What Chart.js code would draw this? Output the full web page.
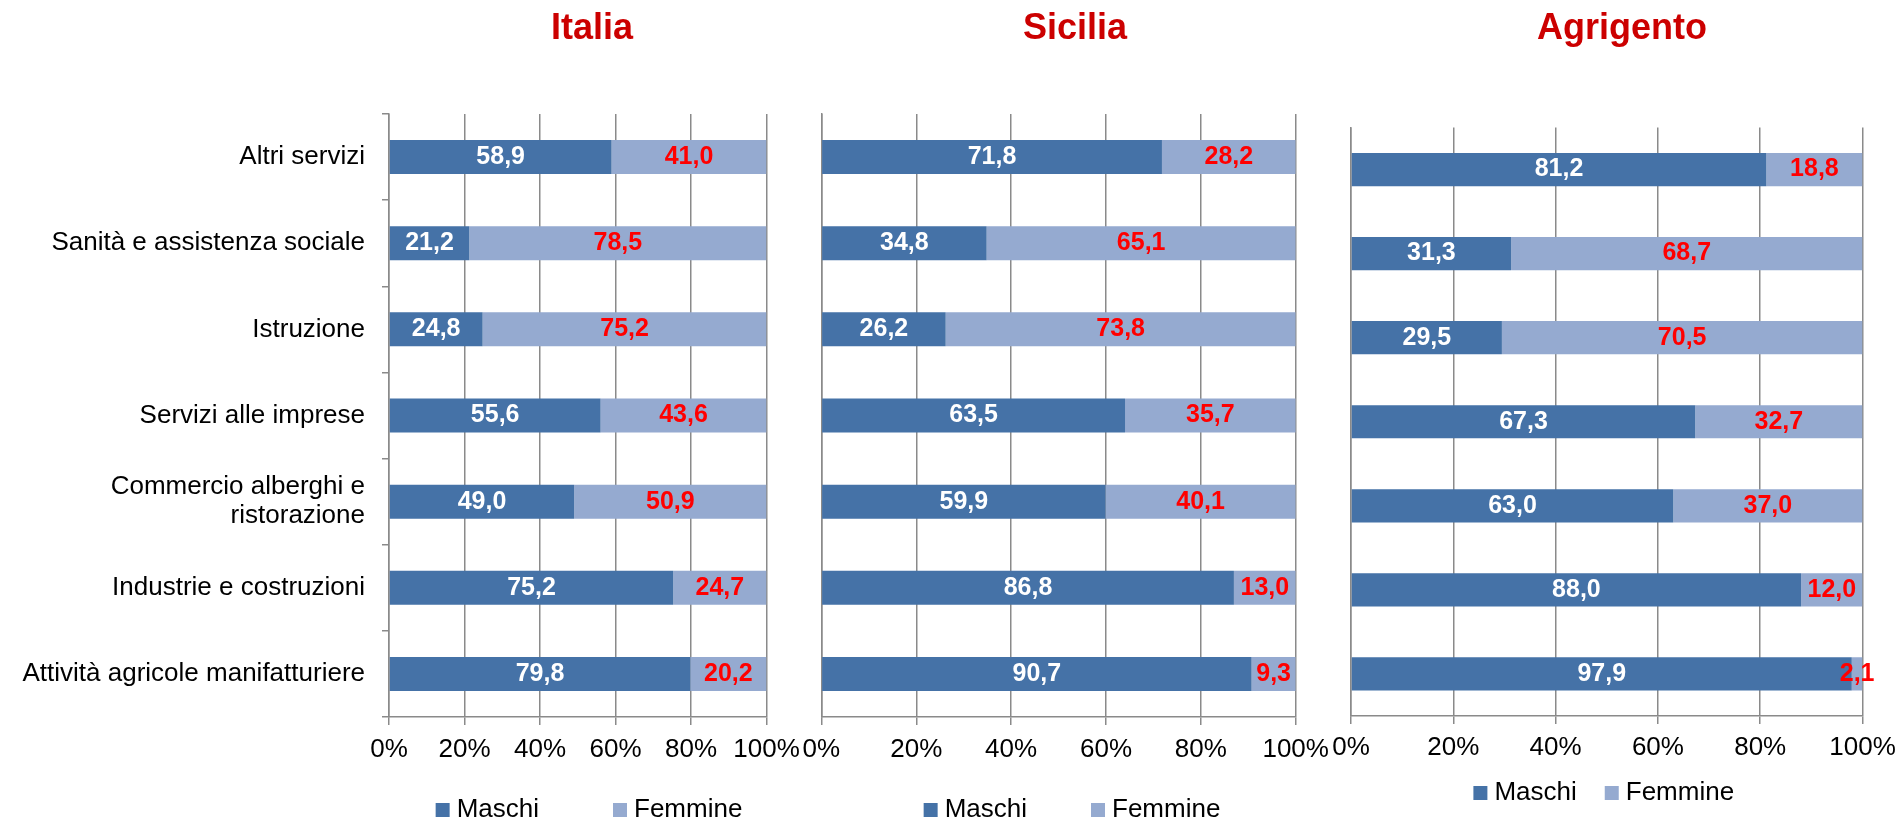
<!DOCTYPE html>
<html>
<head>
<meta charset="utf-8">
<script src="https://cdn.jsdelivr.net/npm/chart.js@4.4.1/dist/chart.umd.min.js"></script>
<style>
html,body{margin:0;padding:0;background:#fff;overflow:hidden;width:1899px;height:821px;}
body{position:relative;}
canvas{position:absolute;top:0;}
</style>
</head>
<body>
<canvas id="cItalia" width="1184" height="833" style="left:0px"></canvas>
<canvas id="cSicilia" width="550" height="833" style="left:800px"></canvas>
<canvas id="cAgrigento" width="604" height="816" style="left:1320px"></canvas>
<script>
// ---- data ----
const categories = ['Altri servizi', 'Sanità e assistenza sociale', 'Istruzione', 'Servizi alle imprese',
  ['Commercio alberghi e', 'ristorazione'], 'Industrie e costruzioni', 'Attività agricole manifatturiere'];
const seriesNames = ['Maschi', 'Femmine'];
const italiaMaschi = [58.9, 21.2, 24.8, 55.6, 49.0, 75.2, 79.8];
const italiaFemmine = [41.0, 78.5, 75.2, 43.6, 50.9, 24.7, 20.2];
const siciliaMaschi = [71.8, 34.8, 26.2, 63.5, 59.9, 86.8, 90.7];
const siciliaFemmine = [28.2, 65.1, 73.8, 35.7, 40.1, 13.0, 9.3];
const agrigentoMaschi = [81.2, 31.3, 29.5, 67.3, 63.0, 88.0, 97.9];
const agrigentoFemmine = [18.8, 68.7, 70.5, 32.7, 37.0, 12.0, 2.1];
const xTickValues = [0, 20, 40, 60, 80, 100];

// ---- styling ----
const FONT = "'Liberation Sans', Arial, Helvetica, sans-serif";
const C_M = '#4572A7', C_F = '#95AAD0', GRID = '#8a8a8a';
Chart.defaults.font.family = FONT;
Chart.defaults.color = '#000';

const fmt = v => v.toFixed(1).replace('.', ',');

const valueLabels = {
  id: 'valueLabels',
  afterDatasetsDraw(chart) {
    const ctx = chart.ctx;
    ctx.save();
    ctx.font = 'bold 25px ' + FONT;
    ctx.textAlign = 'center';
    ctx.textBaseline = 'middle';
    chart.data.datasets.forEach((ds, di) => {
      const meta = chart.getDatasetMeta(di);
      meta.data.forEach((el, i) => {
        const p = el.getCenterPoint();
        ctx.fillStyle = ds.labelColor;
        ctx.fillText(fmt(ds.rawValues[i]), p.x, p.y);
      });
    });
    ctx.restore();
  }
};

function makeChart(id, title, maschi, femmine, g) {
  const tot = maschi.map((m, i) => m + femmine[i]);
  const pm = maschi.map((m, i) => m / tot[i] * 100);
  const pf = femmine.map((f, i) => f / tot[i] * 100);
  return new Chart(document.getElementById(id), {
    type: 'bar',
    data: {
      labels: categories,
      datasets: [
        {label: seriesNames[0], data: pm, rawValues: maschi, labelColor: '#ffffff',
         backgroundColor: C_M, borderWidth: 0, xAxisID: 'x', yAxisID: 'y'},
        {label: seriesNames[1], data: pf, rawValues: femmine, labelColor: '#ff0000',
         backgroundColor: C_F, borderWidth: 0, xAxisID: 'x', yAxisID: 'y'}
      ]
    },
    options: {
      indexAxis: 'y',
      responsive: false,
      animation: false,
      layout: {padding: 0},
      datasets: {bar: {barPercentage: 0.395, categoryPercentage: 1}},
      scales: {
        x: {
          stacked: true, min: 0, max: 100,
          afterBuildTicks: s => { s.ticks = xTickValues.map(v => ({value: v})); },
          ticks: {callback: v => v + '%', font: {size: 26}, mirror: true, padding: -g.labelDrop,
                  color: '#000', autoSkip: false, maxRotation: 0, minRotation: 0},
          grid: {color: GRID, lineWidth: 1.5, drawTicks: true, tickLength: 8},
          border: {display: true, color: GRID, width: 1.5},
          afterFit: s => { s.height = g.xH; }
        },
        y: {
          stacked: true,
          ticks: {display: g.showY, font: {size: 26, lineHeight: 1.12}, padding: 17, color: '#000', autoSkip: false},
          grid: {display: g.yTicks, drawOnChartArea: false, drawTicks: g.yTicks, tickLength: 7, color: GRID, lineWidth: 1.5},
          border: {display: true, color: GRID, width: 1.5},
          afterFit: s => { s.width = g.yw; }
        },
        yR: {
          axis: 'y', type: 'linear', position: 'right', display: true,
          ticks: {display: false}, grid: {display: false}, border: {display: false},
          afterFit: s => { s.width = g.rw; }
        }
      },
      plugins: {
        title: {
          display: true, text: title, color: '#CC0000',
          font: {size: 36, weight: 'bold'},
          padding: {top: 7.7, bottom: g.tb}
        },
        legend: {
          display: true, position: 'bottom', fullSize: g.legendFull,
          labels: {
            usePointStyle: true, pointStyle: 'rect', boxWidth: 2, boxHeight: 14,
            padding: g.lp, font: {size: 26}, color: '#000'
          }
        },
        tooltip: {enabled: false}
      }
    },
    plugins: [valueLabels]
  });
}

// label centre below the axis line: 8 (tick) + 9 (gap) + 15.6 (half line) = 32.6, mirrored => padding -(32.6+15.6)
makeChart('cItalia', 'Italia', italiaMaschi, italiaFemmine,
  {yw: 389, rw: 417.5, xH: 0, tb: 63.1, lp: 80, legendFull: true, showY: true, yTicks: true, labelDrop: 48.2});
makeChart('cSicilia', 'Sicilia', siciliaMaschi, siciliaFemmine,
  {yw: 21.4, rw: 54.3, xH: 10, tb: 63.1, lp: 70, legendFull: true, showY: false, yTicks: false, labelDrop: 48.2});
makeChart('cAgrigento', 'Agrigento', agrigentoMaschi, agrigentoFemmine,
  {yw: 31, rw: 61.5, xH: 30, tb: 76.6, lp: 34, legendFull: false, showY: false, yTicks: false, labelDrop: 47.2});
</script>
</body>
</html>
